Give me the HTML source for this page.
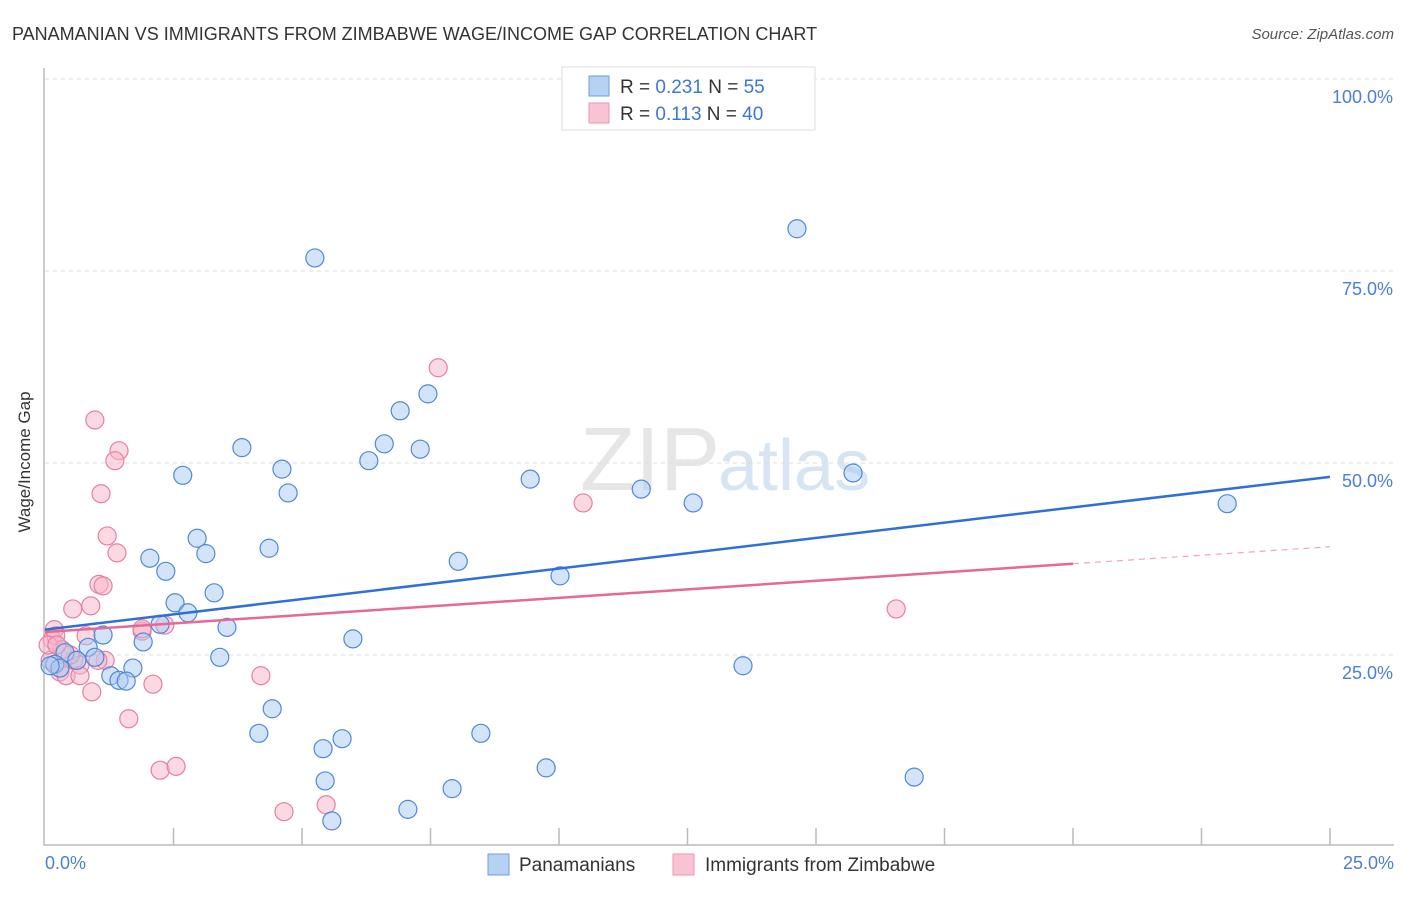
<!DOCTYPE html>
<html><head><meta charset="utf-8"><style>
body{margin:0;background:#fff;font-family:"Liberation Sans",sans-serif}
svg text{font-family:"Liberation Sans",sans-serif}
</style></head><body>
<svg id="c" width="1406" height="892" xmlns="http://www.w3.org/2000/svg">
<text x="12" y="40" font-size="18" fill="#333">PANAMANIAN VS IMMIGRANTS FROM ZIMBABWE WAGE/INCOME GAP CORRELATION CHART</text>
<text x="1394" y="39" font-size="15" fill="#555" text-anchor="end" font-style="italic">Source: ZipAtlas.com</text>
<text x="720" y="490" font-size="90" fill="#e6e6e6" text-anchor="end" font-family="Liberation Serif">ZIP</text>
<text x="718" y="490" font-size="72" fill="#d6e4f4">atlas</text>
<g id="grid"></g><g id="axes"></g><g id="pts"></g><g id="lines"></g>
<text x="24" y="456" font-size="17" fill="#333" text-anchor="middle" transform="rotate(-90 30 456)">Wage/Income Gap</text>
<text x="45" y="869" font-size="18" fill="#4a7fd4">0.0%</text>
<text x="1394" y="869" font-size="18" fill="#4a7fd4" text-anchor="end">25.0%</text>
<g>
<rect x="562" y="67" width="253" height="63" fill="#fff" stroke="#ddd"/>
<rect x="589" y="76" width="20" height="20" fill="#b7d1f3" stroke="#6d9de0"/>
<rect x="589" y="103" width="20" height="20" fill="#f9c3d3" stroke="#ec97b2"/>
<text x="620" y="93" font-size="19" fill="#333">R = <tspan fill="#3d78d0">0.231</tspan>   N = <tspan fill="#3d78d0">55</tspan></text>
<text x="620" y="120" font-size="19" fill="#333">R = <tspan fill="#3d78d0">0.113</tspan>   N = <tspan fill="#3d78d0">40</tspan></text>
</g>
<g>
<rect x="488" y="854" width="21" height="21" fill="#b7d1f3" stroke="#6d9de0"/>
<text x="519" y="871" font-size="19" fill="#333">Panamanians</text>
<rect x="673" y="854" width="21" height="21" fill="#f9c3d3" stroke="#ec97b2"/>
<text x="705" y="871" font-size="19" fill="#333">Immigrants from Zimbabwe</text>
</g>
</svg>
<script>
const yTicks=[100,75,50,25];
const yTickLabels=["100.0%","75.0%","50.0%","25.0%"];
const blueX=[5.25,14.63,7.45,6.91,6.60,7.30,3.83,6.30,4.61,2.68,4.73,9.44,11.60,12.61,15.72,23.0,2.96,3.13,2.04,4.36,8.04,2.35,10.02,3.29,2.53,2.78,3.54,2.24,1.13,1.91,5.99,0.84,0.39,0.62,0.97,0.19,0.29,3.40,1.71,1.28,1.44,1.58,13.58,4.42,4.16,8.48,5.78,5.41,9.75,5.45,16.91,7.92,7.06,5.58,0.10];
const blueY=[76.7,80.5,59.0,56.8,52.5,51.8,52.0,50.3,49.2,48.4,46.1,47.9,46.6,44.8,48.7,44.7,40.2,38.2,37.6,38.9,37.2,35.9,35.3,33.1,31.8,30.5,28.6,29.0,27.6,26.7,27.1,26.0,25.3,24.3,24.7,23.8,23.3,24.7,23.3,22.3,21.7,21.6,23.6,18.0,14.8,14.8,14.1,12.8,10.3,8.6,9.1,7.6,4.9,3.4,23.6];
const pinkX=[0.97,1.44,1.36,1.09,1.21,1.40,7.65,10.47,1.05,1.13,0.89,0.54,1.89,2.33,0.18,0.14,0.21,0.80,0.33,0.56,0.68,1.17,0.29,0.41,0.68,0.91,2.10,4.20,1.63,16.56,2.24,2.55,5.47,4.65,0.10,0.06,0.49,0.23,1.03,1.89];
const pinkY=[55.6,51.6,50.3,46.0,40.5,38.3,62.4,44.8,34.2,34.0,31.4,31.0,28.1,28.9,28.3,27.0,27.5,27.5,25.7,24.3,23.7,24.3,22.8,22.3,22.3,20.2,21.2,22.3,16.7,31.0,10.0,10.5,5.5,4.6,24.3,26.3,25.0,26.3,24.3,28.4];
const blueTrend=[28.3,48.2]; // y at x=0 and x=25
const pinkTrend=[28.0,39.1];
const NS="http://www.w3.org/2000/svg";
const X=v=>45+v/25*1285, Y=v=>847-v/100*768;
function mk(t,a,p){const e=document.createElementNS(NS,t);for(const k in a)e.setAttribute(k,a[k]);document.getElementById(p).appendChild(e);return e;}
yTicks.forEach((t,i)=>{
 let l=mk('line',{x1:45,x2:1394,y1:Y(t),y2:Y(t),stroke:'#ddd','stroke-dasharray':'4,4'},'grid');
 
 
 let tx=mk('text',{x:1393,y:Y(t)+24,'font-size':18,fill:'#4a7fd4','text-anchor':'end'},'grid');
 tx.textContent=yTickLabels[i];
 
 
});
let ax=mk('path',{d:'M44 68V845H1394',fill:'none',stroke:'#bbb','stroke-width':1.5},'axes');


for(let i=1;i<=10;i++){
 let t=mk('line',{x1:X(i*2.5),x2:X(i*2.5),y1:828,y2:845,stroke:'#bbb','stroke-width':1.5},'axes');
 
 
}
function pts(xs,ys,fill,stroke,name){xs.forEach((x,i)=>{
 let c=mk('circle',{cx:X(x),cy:Y(ys[i]),r:9,fill:fill,'fill-opacity':0.5,stroke:stroke,'stroke-width':1.2},'pts');
 
 
});}
pts(pinkX,pinkY,'#f7b3c8','#e77fa1','zimbabwe-point');
pts(blueX,blueY,'#a9c9f1','#4f88d8','panamanian-point');
let b=mk('line',{x1:X(0),y1:Y(blueTrend[0]),x2:X(25),y2:Y(blueTrend[1]),stroke:'#2f6fd6','stroke-width':2.5},'lines');


const pAt=x=>pinkTrend[0]+(pinkTrend[1]-pinkTrend[0])*x/25;
let p=mk('line',{x1:X(0),y1:Y(pAt(0)),x2:X(20),y2:Y(pAt(20)),stroke:'#e86795','stroke-width':2.5},'lines');


let pd=mk('line',{x1:X(20),y1:Y(pAt(20)),x2:X(25),y2:Y(pAt(25)),stroke:'#e86795','stroke-width':1.2,'stroke-dasharray':'6,5','stroke-opacity':0.6},'lines');


</script>
</body></html>
